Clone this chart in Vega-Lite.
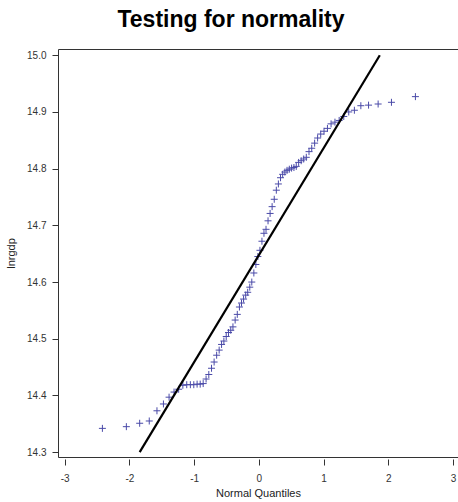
{
  "$schema": "https://vega.github.io/schema/vega-lite/v6.json",
  "autosize": {"type": "none"},
  "padding": {"left": 58, "top": 49, "right": 0, "bottom": 45},
  "width": 400,
  "height": 408,
  "background": "white",
  "title": {
    "text": "Testing for normality",
    "font": "Liberation Sans",
    "fontSize": 23,
    "fontWeight": "bold",
    "color": "black",
    "anchor": "middle",
    "dx": -27,
    "offset": 17
  },
  "config": {
    "view": {"stroke": "#333333", "strokeWidth": 1},
    "axis": {
      "grid": false,
      "domain": false,
      "tickColor": "#333333",
      "tickSize": 6,
      "labelFont": "Liberation Sans",
      "labelFontSize": 10,
      "labelColor": "#333333",
      "titleFont": "Liberation Sans",
      "titleFontSize": 11,
      "titleFontWeight": "normal",
      "titleColor": "#222222"
    }
  },
  "datasets": {
    "qq": [
      {"q": -2.418, "lnrgdp": 14.342},
      {"q": -2.048, "lnrgdp": 14.345},
      {"q": -1.842, "lnrgdp": 14.351},
      {"q": -1.694, "lnrgdp": 14.355},
      {"q": -1.575, "lnrgdp": 14.373},
      {"q": -1.475, "lnrgdp": 14.385},
      {"q": -1.388, "lnrgdp": 14.397},
      {"q": -1.311, "lnrgdp": 14.406},
      {"q": -1.240, "lnrgdp": 14.411},
      {"q": -1.175, "lnrgdp": 14.418},
      {"q": -1.115, "lnrgdp": 14.419},
      {"q": -1.059, "lnrgdp": 14.419},
      {"q": -1.006, "lnrgdp": 14.419},
      {"q": -0.955, "lnrgdp": 14.420},
      {"q": -0.907, "lnrgdp": 14.420},
      {"q": -0.861, "lnrgdp": 14.421},
      {"q": -0.816, "lnrgdp": 14.429},
      {"q": -0.774, "lnrgdp": 14.437},
      {"q": -0.732, "lnrgdp": 14.448},
      {"q": -0.692, "lnrgdp": 14.459},
      {"q": -0.653, "lnrgdp": 14.471},
      {"q": -0.614, "lnrgdp": 14.480},
      {"q": -0.577, "lnrgdp": 14.490},
      {"q": -0.541, "lnrgdp": 14.496},
      {"q": -0.505, "lnrgdp": 14.504},
      {"q": -0.470, "lnrgdp": 14.511},
      {"q": -0.435, "lnrgdp": 14.515},
      {"q": -0.401, "lnrgdp": 14.521},
      {"q": -0.367, "lnrgdp": 14.533},
      {"q": -0.334, "lnrgdp": 14.543},
      {"q": -0.301, "lnrgdp": 14.556},
      {"q": -0.269, "lnrgdp": 14.563},
      {"q": -0.237, "lnrgdp": 14.570},
      {"q": -0.204, "lnrgdp": 14.577},
      {"q": -0.173, "lnrgdp": 14.582},
      {"q": -0.141, "lnrgdp": 14.591},
      {"q": -0.110, "lnrgdp": 14.600},
      {"q": -0.078, "lnrgdp": 14.616},
      {"q": -0.047, "lnrgdp": 14.631},
      {"q": -0.016, "lnrgdp": 14.645},
      {"q": 0.016, "lnrgdp": 14.656},
      {"q": 0.047, "lnrgdp": 14.672},
      {"q": 0.078, "lnrgdp": 14.686},
      {"q": 0.110, "lnrgdp": 14.693},
      {"q": 0.141, "lnrgdp": 14.708},
      {"q": 0.173, "lnrgdp": 14.721},
      {"q": 0.204, "lnrgdp": 14.733},
      {"q": 0.237, "lnrgdp": 14.746},
      {"q": 0.269, "lnrgdp": 14.762},
      {"q": 0.301, "lnrgdp": 14.773},
      {"q": 0.334, "lnrgdp": 14.784},
      {"q": 0.367, "lnrgdp": 14.790},
      {"q": 0.401, "lnrgdp": 14.794},
      {"q": 0.435, "lnrgdp": 14.797},
      {"q": 0.470, "lnrgdp": 14.799},
      {"q": 0.505, "lnrgdp": 14.801},
      {"q": 0.541, "lnrgdp": 14.802},
      {"q": 0.577, "lnrgdp": 14.804},
      {"q": 0.614, "lnrgdp": 14.811},
      {"q": 0.653, "lnrgdp": 14.814},
      {"q": 0.692, "lnrgdp": 14.817},
      {"q": 0.732, "lnrgdp": 14.820},
      {"q": 0.774, "lnrgdp": 14.830},
      {"q": 0.816, "lnrgdp": 14.836},
      {"q": 0.861, "lnrgdp": 14.845},
      {"q": 0.907, "lnrgdp": 14.854},
      {"q": 0.955, "lnrgdp": 14.861},
      {"q": 1.006, "lnrgdp": 14.866},
      {"q": 1.059, "lnrgdp": 14.871},
      {"q": 1.115, "lnrgdp": 14.879},
      {"q": 1.175, "lnrgdp": 14.882},
      {"q": 1.240, "lnrgdp": 14.885},
      {"q": 1.311, "lnrgdp": 14.892},
      {"q": 1.388, "lnrgdp": 14.900},
      {"q": 1.475, "lnrgdp": 14.903},
      {"q": 1.575, "lnrgdp": 14.911},
      {"q": 1.694, "lnrgdp": 14.912},
      {"q": 1.842, "lnrgdp": 14.914},
      {"q": 2.048, "lnrgdp": 14.917},
      {"q": 2.418, "lnrgdp": 14.927}
    ],
    "ref": [
      {"q": -1.842, "lnrgdp": 14.3},
      {"q": 1.868, "lnrgdp": 15.0}
    ]
  },
  "encoding": {
    "x": {
      "field": "q",
      "type": "quantitative",
      "title": "Normal Quantiles",
      "scale": {"domain": [-3.104, 3.076], "nice": false, "zero": false},
      "axis": {
        "values": [-3, -2, -1, 0, 1, 2, 3],
        "labelExpr": "datum.value + ''",
        "offset": 2,
        "labelPadding": 8,
        "titlePadding": 4
      }
    },
    "y": {
      "field": "lnrgdp",
      "type": "quantitative",
      "title": "lnrgdp",
      "scale": {"domain": [14.2915, 15.011], "nice": false, "zero": false},
      "axis": {
        "values": [14.3, 14.4, 14.5, 14.6, 14.7, 14.8, 14.9, 15.0],
        "format": ".1f",
        "labelPadding": 6,
        "titlePadding": 10
      }
    }
  },
  "layer": [
    {
      "data": {"name": "qq"},
      "mark": {
        "type": "point",
        "shape": "M-1,0H1M0,-1V1",
        "filled": false,
        "size": 49,
        "strokeWidth": 1,
        "color": "#4a4aa8",
        "opacity": 1
      }
    },
    {
      "data": {"name": "ref"},
      "mark": {"type": "line", "color": "black", "strokeWidth": 2.2}
    }
  ]
}
